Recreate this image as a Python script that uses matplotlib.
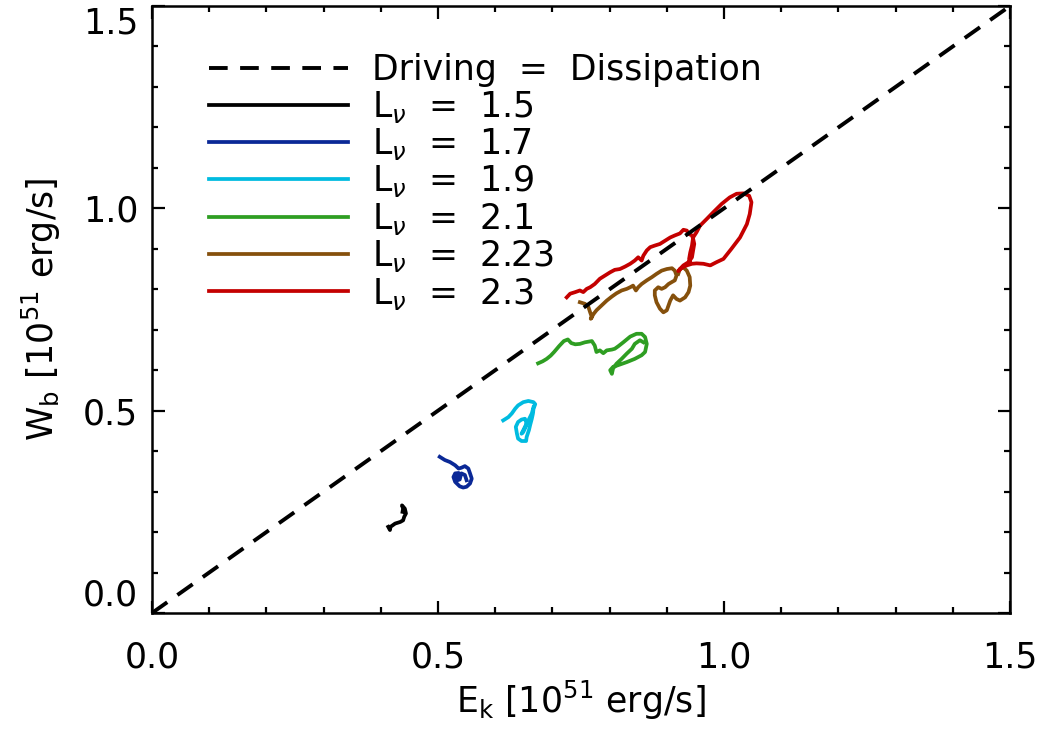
import matplotlib
matplotlib.use("Agg")
import matplotlib.pyplot as plt
from matplotlib.ticker import MultipleLocator, FixedLocator

plt.rcParams['font.family'] = ['DejaVu Sans']
plt.rcParams['mathtext.fontset'] = 'dejavusans'

# ---- data (units of 1e51 erg/s) ----
ek_15 = [0.413, 0.416, 0.417, 0.425, 0.434, 0.439, 0.441, 0.444, 0.442, 0.437, 0.439, 0.438]
wb_15 = [0.213, 0.205, 0.213, 0.221, 0.225, 0.229, 0.238, 0.246, 0.258, 0.266, 0.258, 0.250]

ek_17 = [0.503, 0.512, 0.521, 0.530, 0.536, 0.541, 0.547, 0.553, 0.556, 0.559, 0.556, 0.550,
         0.544, 0.538, 0.530, 0.527, 0.530, 0.536, 0.540, 0.538, 0.534, 0.533, 0.541, 0.547, 0.550]
wb_17 = [0.386, 0.378, 0.373, 0.365, 0.357, 0.359, 0.363, 0.357, 0.345, 0.332, 0.320, 0.312,
         0.310, 0.313, 0.324, 0.336, 0.345, 0.346, 0.341, 0.330, 0.328, 0.336, 0.345, 0.341, 0.328]

ek_19 = [0.614, 0.623, 0.629, 0.635, 0.640, 0.649, 0.658, 0.667, 0.670, 0.667, 0.666, 0.664,
         0.661, 0.659, 0.655, 0.654, 0.646, 0.640, 0.638, 0.636, 0.640, 0.646, 0.652, 0.655,
         0.652, 0.649, 0.646, 0.652, 0.658, 0.664, 0.667]
wb_19 = [0.476, 0.484, 0.493, 0.505, 0.513, 0.521, 0.524, 0.521, 0.516, 0.505, 0.493, 0.480,
         0.464, 0.452, 0.435, 0.425, 0.425, 0.431, 0.443, 0.460, 0.472, 0.478, 0.480, 0.468,
         0.456, 0.447, 0.443, 0.460, 0.476, 0.493, 0.509]

ek_21 = [0.675, 0.683, 0.690, 0.697, 0.703, 0.712, 0.720, 0.727, 0.733, 0.740,
         0.748, 0.757, 0.769, 0.774, 0.777, 0.783, 0.789, 0.795, 0.804, 0.809, 0.815, 0.824,
         0.836, 0.847, 0.856, 0.862, 0.865, 0.862, 0.856, 0.844, 0.830, 0.818, 0.806, 0.801,
         0.804, 0.806, 0.812, 0.821, 0.830, 0.839, 0.844, 0.853, 0.859]
wb_21 = [0.617, 0.622, 0.628, 0.636, 0.645, 0.660, 0.672, 0.676, 0.667, 0.664,
         0.665, 0.669, 0.672, 0.661, 0.645, 0.649, 0.642, 0.649, 0.651, 0.653, 0.659, 0.669,
         0.683, 0.690, 0.690, 0.682, 0.665, 0.645, 0.637, 0.628, 0.620, 0.614, 0.608, 0.600,
         0.591, 0.604, 0.616, 0.628, 0.641, 0.653, 0.665, 0.674, 0.669]

ek_223 = [0.748, 0.757, 0.763, 0.766, 0.769, 0.767, 0.772, 0.777, 0.786, 0.795, 0.804, 0.812,
          0.821, 0.830, 0.836, 0.841, 0.846, 0.850, 0.856, 0.865, 0.874, 0.882, 0.891, 0.900,
          0.909, 0.914, 0.917, 0.914, 0.909, 0.903, 0.897, 0.891, 0.885, 0.879, 0.879, 0.882,
          0.888, 0.894, 0.900, 0.903, 0.906, 0.911, 0.917, 0.923, 0.932, 0.938, 0.941, 0.940,
          0.935, 0.929, 0.923, 0.920]
wb_223 = [0.768, 0.764, 0.756, 0.743, 0.731, 0.727, 0.739, 0.748, 0.760, 0.772, 0.782, 0.790,
          0.797, 0.801, 0.805, 0.809, 0.797, 0.805, 0.813, 0.822, 0.830, 0.838, 0.846, 0.850,
          0.852, 0.846, 0.834, 0.822, 0.818, 0.813, 0.805, 0.801, 0.805, 0.797, 0.785, 0.768,
          0.752, 0.743, 0.748, 0.760, 0.772, 0.785, 0.776, 0.772, 0.780, 0.793, 0.809, 0.830,
          0.846, 0.854, 0.850, 0.838]

ek_23 = [0.725, 0.731, 0.740, 0.748, 0.754, 0.760, 0.766, 0.774, 0.783, 0.792, 0.801, 0.809,
         0.818, 0.827, 0.836, 0.844, 0.850, 0.856, 0.859, 0.865, 0.871, 0.879, 0.888, 0.897,
         0.906, 0.914, 0.923, 0.929, 0.935, 0.938, 0.944, 0.946, 0.948, 0.946, 0.944, 0.938,
         0.929, 0.923, 0.920, 0.926, 0.935, 0.944, 0.952, 0.964, 0.976, 0.987, 0.999, 1.013,
         1.028, 1.040, 1.045, 1.048, 1.044, 1.034, 1.022, 1.010, 0.996, 0.981, 0.970, 0.958,
         0.952, 0.946, 0.944, 0.941, 0.939, 0.941]
wb_23 = [0.780, 0.789, 0.793, 0.797, 0.793, 0.801, 0.805, 0.813, 0.826, 0.834, 0.842, 0.848,
         0.850, 0.856, 0.863, 0.871, 0.879, 0.871, 0.883, 0.896, 0.904, 0.908, 0.912, 0.920,
         0.928, 0.933, 0.938, 0.947, 0.945, 0.937, 0.933, 0.925, 0.912, 0.896, 0.879, 0.867,
         0.859, 0.850, 0.845, 0.853, 0.859, 0.863, 0.864, 0.863, 0.859, 0.867, 0.875, 0.900,
         0.928, 0.961, 0.986, 1.015, 1.031, 1.037, 1.036, 1.027, 1.011, 0.990, 0.974, 0.957,
         0.941, 0.928, 0.908, 0.891, 0.875, 0.867]

series = [
    (ek_15, wb_15, r'L$_\nu$  =  1.5', '#000000'),
    (ek_17, wb_17, r'L$_\nu$  =  1.7', '#0a2896'),
    (ek_19, wb_19, r'L$_\nu$  =  1.9', '#00bbe0'),
    (ek_21, wb_21, r'L$_\nu$  =  2.1', '#2e9e22'),
    (ek_223, wb_223, r'L$_\nu$  =  2.23', '#85500c'),
    (ek_23, wb_23, r'L$_\nu$  =  2.3', '#c40000'),
]
diag = [0.0, 1.5]
xticks = [0.0, 0.5, 1.0, 1.5]
yticks = [0.0, 0.5, 1.0, 1.5]

fig = plt.figure(figsize=(10.45, 7.31), dpi=100)
ax = fig.add_axes([152/1045, 1 - 613/731, (1010-152)/1045, (613-6)/731])

ax.plot(diag, diag, color='black', lw=2.8, ls=(0, (4.8, 3.2)), label='Driving  =  Dissipation',
        zorder=5)
for x, y, lab, c in series:
    ax.plot(x, y, color=c, lw=2.7, label=lab, zorder=3, solid_joinstyle='round')

ax.set_xlim(0, 1.5)
ax.set_ylim(0, 1.5)
ax.xaxis.set_major_locator(FixedLocator(xticks))
ax.yaxis.set_major_locator(FixedLocator(yticks))
ax.xaxis.set_minor_locator(MultipleLocator(0.1))
ax.yaxis.set_minor_locator(MultipleLocator(0.1))
ax.set_xticklabels(['%.1f' % v for v in xticks])
ax.set_yticklabels(['%.1f' % v for v in yticks])
ax.tick_params(which='both', direction='in', top=True, right=True, width=1.6,
               labelsize=25)
ax.tick_params(which='major', length=9)
ax.tick_params(which='minor', length=4.5)
ax.tick_params(axis='x', which='major', pad=20)
ax.tick_params(axis='y', which='major', pad=10)
for s in ax.spines.values():
    s.set_linewidth(1.8)

labs = ax.get_yticklabels()
labs[0].set_va('bottom')
labs[-1].set_va('top')

ax.set_xlabel(r'E$_\mathrm{k}$ [10$^{51}$ erg/s]', fontsize=25, labelpad=3)
ax.set_ylabel(r'W$_\mathrm{b}$ [10$^{51}$ erg/s]', fontsize=25, labelpad=14)

leg = ax.legend(loc='upper left', bbox_to_anchor=(0.05, 0.945), frameon=False,
                fontsize=25, handlelength=4.0, handletextpad=0.7, labelspacing=0.04,
                borderaxespad=0)

fig.savefig('out.png', dpi=100)
